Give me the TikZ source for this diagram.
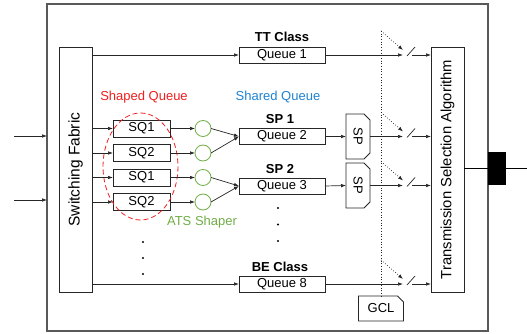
\documentclass[tikz,border=0pt]{standalone}
\usepackage{fontspec}
\usepackage{graphicx}
\setmainfont{Liberation Sans}
\usetikzlibrary{arrows.meta,calc}
\definecolor{sred}{RGB}{240,30,30}
\definecolor{sblue}{RGB}{30,130,210}
\definecolor{sgreen}{RGB}{112,173,71}
\begin{document}
\begin{tikzpicture}[x=1pt,y=-1pt,
  every node/.style={font=\fontsize{13}{15}\selectfont, inner sep=0pt, outer sep=0pt},
  box/.style={draw=black!85, line width=0.8pt},
  qbox/.style={box, fill=white, minimum width=86pt, minimum height=16pt},
  sqbox/.style={box, fill=white, minimum width=57pt, minimum height=17pt},
  tallbox/.style={box, fill=white, minimum width=33pt, minimum height=245pt, font=\fontsize{15}{17}\selectfont},
  shaper/.style={circle, draw=sgreen, line width=0.8pt, minimum size=16pt},
  arr/.style={-{Latex[length=5pt,width=3.6pt]}, line width=0.7pt, draw=black!85},
  ctrl/.style={dotted, line width=0.7pt, draw=black!85},
  ctrlarr/.style={ctrl, -{Latex[length=5pt,width=3.6pt]}},
  lbl/.style={font=\fontsize{13}{15}\selectfont\bfseries},
]
\useasboundingbox (0,0) rectangle (527,334);

% outer switch box
\node[draw=black!65, line width=1.2pt, minimum width=441pt, minimum height=327pt] (sw) at (267.5,167.5) {};

% input arrows
\coordinate (in1) at (14,136);
\coordinate (in2) at (14,200);
\draw[arr] (in1) -- (in1 -| sw.west);
\draw[arr] (in2) -- (in2 -| sw.west);

% output port
\coordinate (outp) at (527,168.5);
\node[tallbox, font=\fontsize{14.8}{17}\selectfont] (tsa) at (447.5,169.5) {\rotatebox{90}{Transmission Selection Algorithm}};
\draw[line width=0.8pt] (tsa.east |- outp) -- (outp);
\node[fill=black, minimum width=18pt, minimum height=33pt] (port) at (497,168.5) {};

% switching fabric
\node[tallbox, font=\fontsize{15.5}{17}\selectfont] (sf) at (75.5,169.5) {\rotatebox{90}{Switching Fabric}};

% queues
\node[qbox] (q1) at (282,55) {Queue 1};
\node[qbox] (q2) at (282,136.5) {Queue 2};
\node[qbox] (q3) at (282,186) {Queue 3};
\node[qbox] (q8) at (282,284) {Queue 8};

% labels
\node[lbl] (tt) at (282,37) {TT Class};
\node[lbl] (sp1l) at (280,119.5) {SP 1};
\node[lbl] (sp2l) at (280,169) {SP 2};
\node[lbl] (be) at (280,267) {BE Class};
\node[text=sred] (shq) at (144,97) {Shaped Queue};
\node[text=sblue] (srq) at (278,97) {Shared Queue};
\node[text=sgreen] (ats) at (202,222) {ATS Shaper};

% shaped queues
\node[sqbox] (sqa) at (141.5,128.5) {SQ1};
\node[sqbox] (sqb) at (141.5,153) {SQ2};
\node[sqbox] (sqc) at (141.5,177.5) {SQ1};
\node[sqbox] (sqd) at (141.5,202) {SQ2};

% ATS shapers
\node[shaper] (c1) at (203,128.5) {};
\node[shaper] (c2) at (203,153) {};
\node[shaper] (c3) at (203,177.5) {};
\node[shaper] (c4) at (203,202) {};

% red dashed ellipse
\draw[sred, line width=0.8pt, dash pattern=on 5pt off 3pt] (140.5,166.5) ellipse [x radius=37.5, y radius=53.5];

% fabric to queues
\draw[arr] (sf.east |- q1.west) -- (q1.west);
\draw[arr] (sf.east |- q8.west) -- (q8.west);
\foreach \s in {sqa,sqb,sqc,sqd} {
  \draw[arr] (sf.east |- \s.west) -- (\s.west);
}
\draw[arr] (sqa.east) -- (c1.west);
\draw[arr] (sqb.east) -- (c2.west);
\draw[arr] (sqc.east) -- (c3.west);
\draw[arr] (sqd.east) -- (c4.west);
\draw[arr] (c1.east) -- (q2.west);
\draw[arr] (c2.east) -- (q2.west);
\draw[arr] (c3.east) -- (q3.west);
\draw[arr] (c4.east) -- (q3.west);

% dots
\foreach \yy in {242,258,274} { \fill (143,\yy) circle (1.1pt); }
\foreach \yy in {208,224.5,241} { \fill (278,\yy) circle (1.1pt); }

% SP boxes
\node[minimum width=24pt, minimum height=45pt] (sp1) at (358,136.5) {\rotatebox{-90}{SP}};
\node[minimum width=24pt, minimum height=45pt] (sp2) at (358,185.5) {\rotatebox{-90}{SP}};
\foreach \n in {sp1,sp2} {
  \draw[box] (\n.south west) -- (\n.north west) -- ([xshift=-6pt]\n.north east) -- ([yshift=-6pt]\n.north east)
    -- ([yshift=6pt]\n.south east) -- ([xshift=-6pt]\n.south east) -- cycle;
}
\draw[arr] (q2.east) -- (sp1.west);
\draw[arr] (q3.east) -- (sp2.west);

% GCL
\node[minimum width=45pt, minimum height=25pt] (gcl) at (381,308.5) {GCL};
\draw[box] (gcl.south west) -- (gcl.north west) -- ([xshift=-6pt]gcl.north east) -- ([yshift=-6pt]gcl.north east) -- (gcl.south east) -- cycle;

% gates
\foreach \src/\y/\i in {q1/55/1, sp1/136.5/2, sp2/185.5/3, q8/284/4} {
  \coordinate (gin\i) at (403,\y);
  \coordinate (gout\i) at (412,\y);
  \coordinate (ga\i) at (381,\y-24);
  \coordinate (gb\i) at (403,\y-5);
  \draw[arr] (\src.east) -- (gin\i);
  \draw[line width=0.7pt, draw=black!85] (407,\y+1) -- (415,\y-8);
  \draw[arr] (gout\i) -- (gout\i -| tsa.west);
  \draw[ctrlarr] (ga\i) -- (gb\i);
}
\draw[ctrl] (gcl.north |- ga1) -- (gcl.north);
\end{tikzpicture}
\end{document}
